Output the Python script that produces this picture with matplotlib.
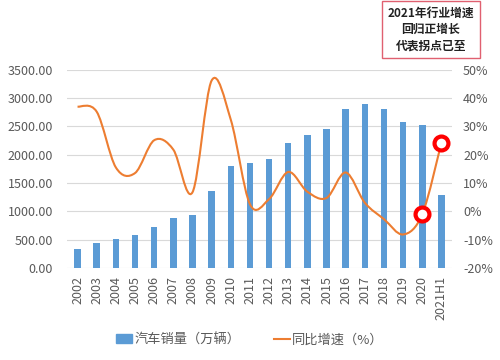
import matplotlib
matplotlib.use("Agg")
import matplotlib.pyplot as plt
from matplotlib.path import Path
from matplotlib.patches import PathPatch
from matplotlib.lines import Line2D
from matplotlib.patches import Patch

plt.rcParams["font.family"] = ["Noto Sans CJK SC", "DejaVu Sans"]

years = ["2002", "2003", "2004", "2005", "2006", "2007", "2008", "2009", "2010",
         "2011", "2012", "2013", "2014", "2015", "2016", "2017", "2018", "2019",
         "2020", "2021H1"]
sales = [325, 439, 507, 576, 722, 879, 938, 1364, 1806, 1851, 1931, 2198,
         2349, 2460, 2803, 2888, 2808, 2577, 2531, 1289]
growth = [37.0, 35.2, 15.5, 13.5, 25.1, 21.8, 6.7, 46.2, 32.4, 2.5, 4.3, 13.9,
          6.9, 4.7, 13.7, 3.0, -2.8, -8.2, -1.0, 24.3]
highlight = ["2020", "2021H1"]
note = "2021年行业增速\n回归正增长\n代表拐点已至"

BLUE, ORANGE, GREY = "#5B9BD5", "#ED7D31", "#595959"


def smooth_path(xs, ys):
    """Excel-style smoothed line: Catmull-Rom segments as cubic Beziers."""
    pts = list(zip(xs, ys))
    verts, codes = [pts[0]], [Path.MOVETO]
    n = len(pts)
    for i in range(n - 1):
        p0 = pts[max(i - 1, 0)]
        p1, p2 = pts[i], pts[i + 1]
        p3 = pts[min(i + 2, n - 1)]
        c1 = (p1[0] + (p2[0] - p0[0]) / 6, p1[1] + (p2[1] - p0[1]) / 6)
        c2 = (p2[0] - (p3[0] - p1[0]) / 6, p2[1] - (p3[1] - p1[1]) / 6)
        verts += [c1, c2, p2]
        codes += [Path.CURVE4] * 3
    return Path(verts, codes)


fig = plt.figure(figsize=(5, 3.6), dpi=100)
ax = fig.add_axes([0.134, 0.256, 0.770, 0.550])
x = list(range(len(years)))

ax.bar(x, sales, width=0.34, color=BLUE, zorder=2)
ax.set_ylim(0, 3500)
ax.set_yticks(range(0, 3501, 500))
ax.set_yticklabels([f"{v:.2f}" for v in range(0, 3501, 500)])
ax.set_xlim(-0.55, len(years) - 0.45)
ax.set_xticks(x)
ax.set_xticklabels(years, rotation=90)
ax.grid(axis="y", color="#D9D9D9", lw=0.8, zorder=0)
ax.set_axisbelow(True)
for s in ax.spines.values():
    s.set_visible(False)
ax.tick_params(axis="y", length=0, pad=10, labelsize=9, colors=GREY)
ax.tick_params(axis="x", length=0, pad=6, labelsize=9, colors=GREY)

ax2 = ax.twinx()
ax2.set_ylim(-20, 50)
ax2.set_yticks(range(-20, 51, 10))
ax2.set_yticklabels([f"{v}%" for v in range(-20, 51, 10)])
for s in ax2.spines.values():
    s.set_visible(False)
ax2.tick_params(axis="y", length=0, pad=8, labelsize=9, colors=GREY)
ax2.add_patch(PathPatch(smooth_path(x, growth), fill=False, ec=ORANGE,
                        lw=1.5, zorder=3))
hx = [years.index(h) for h in highlight]
ax2.plot(hx, [growth[i] for i in hx], ls="none", marker="o", ms=10,
         mfc="white", mec="#FF0000", mew=3, zorder=4)

handles = [Patch(color=BLUE), Line2D([], [], color=ORANGE, lw=1.5)]
fig.legend(handles, ["汽车销量（万辆）", "同比增速（%）"], loc="center",
           bbox_to_anchor=(0.5, 0.056), ncol=2, frameon=False, fontsize=9.5,
           labelcolor=GREY, handlelength=1.2, handletextpad=0.2,
           columnspacing=2.5)

fig.text(0.862, 0.918, note, ha="center", va="center", fontsize=8.5,
         fontweight="bold", color="#222222", linespacing=1.35,
         bbox=dict(boxstyle="square,pad=0.5", fc="white", ec="#E06070", lw=1))

fig.savefig("out.png", dpi=100)
